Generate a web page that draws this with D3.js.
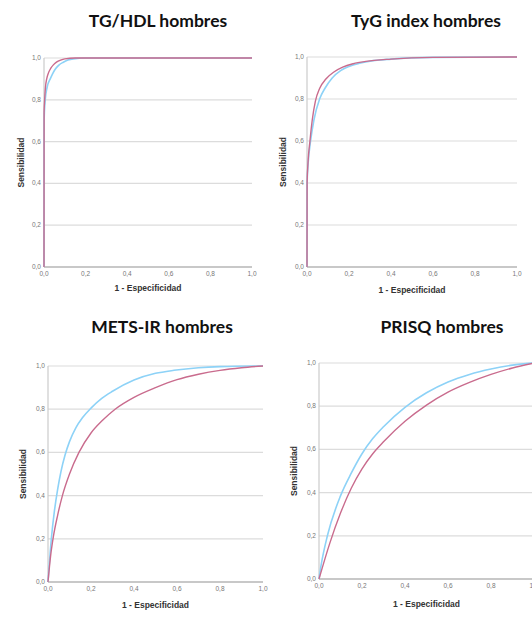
<!DOCTYPE html>
<html>
<head>
<meta charset="utf-8">
<script src="https://cdn.jsdelivr.net/npm/d3@7"></script>
<style>
  body { margin: 0; background: #fff; }
  .title { font-family: Lato, "Open Sans", sans-serif; font-weight: 700; font-size: 17.5px; fill: #111; }
  .axis-title { font-family: "Liberation Sans", Arial, sans-serif; font-weight: 700; font-size: 8.5px; fill: #333; }
  .tick-label { font-family: "Liberation Sans", Arial, sans-serif; font-size: 6.5px; fill: #777; }
</style>
</head>
<body>
<div id="chart"></div>
<script>
var titles = ['TG/HDL hombres', 'TyG index hombres', 'METS-IR hombres', 'PRISQ hombres'];
var tickValues = [0, 0.2, 0.4, 0.6, 0.8, 1.0];

// [1 - especificidad, sensibilidad]
var tgHdlBlue = [[0, 0], [0.0005, 0.7], [0.006, 0.8], [0.015, 0.86], [0.03, 0.9], [0.04, 0.922], [0.053, 0.945], [0.07, 0.965], [0.093, 0.98], [0.115, 0.99], [0.14, 0.996], [0.2, 1], [1, 1]];
var tgHdlRed = [[0, 0], [0.0005, 0.74], [0.003, 0.8], [0.007, 0.86], [0.013, 0.9], [0.022, 0.93], [0.032, 0.95], [0.045, 0.967], [0.06, 0.98], [0.08, 0.99], [0.1, 0.996], [0.15, 1], [1, 1]];

var tygBlue = [[0, 0], [0.0005, 0.4], [0.006, 0.5], [0.017, 0.6], [0.033, 0.7], [0.06, 0.8], [0.085, 0.85], [0.12, 0.9], [0.16, 0.935], [0.2, 0.955], [0.25, 0.97], [0.3, 0.98], [0.4, 0.99], [0.6, 0.998], [1, 1]];
var tygRed = [[0, 0], [0.0005, 0.4], [0.005, 0.5], [0.014, 0.6], [0.025, 0.7], [0.04, 0.79], [0.06, 0.85], [0.09, 0.895], [0.13, 0.93], [0.17, 0.952], [0.22, 0.968], [0.28, 0.979], [0.4, 0.99], [0.6, 0.998], [1, 1]];

var metsBlue = [[0, 0], [0.0155, 0.2], [0.03, 0.33], [0.045, 0.43], [0.06, 0.51], [0.08, 0.59], [0.1, 0.65], [0.13, 0.715], [0.16, 0.76], [0.2, 0.805], [0.25, 0.85], [0.3, 0.883], [0.4, 0.935], [0.5, 0.966], [0.586, 0.98], [0.7, 0.992], [0.8, 0.997], [1, 1]];
var metsRed = [[0, 0], [0.012, 0.12], [0.025, 0.21], [0.045, 0.31], [0.067, 0.4], [0.1, 0.5], [0.144, 0.6], [0.2, 0.69], [0.25, 0.745], [0.312, 0.8], [0.4, 0.855], [0.5, 0.9], [0.6, 0.937], [0.7, 0.962], [0.8, 0.98], [0.9, 0.992], [1, 1]];

var prisqBlue = [[0, 0], [0.01, 0.065], [0.039, 0.2], [0.1, 0.385], [0.15, 0.49], [0.2, 0.58], [0.25, 0.65], [0.3, 0.705], [0.4, 0.795], [0.5, 0.862], [0.6, 0.912], [0.7, 0.947], [0.8, 0.972], [0.9, 0.99], [1, 1]];
var prisqRed = [[0, 0], [0.05, 0.165], [0.1, 0.305], [0.15, 0.42], [0.2, 0.51], [0.25, 0.58], [0.3, 0.635], [0.4, 0.73], [0.5, 0.805], [0.6, 0.865], [0.7, 0.91], [0.8, 0.947], [0.9, 0.977], [1, 1]];

var blueSeries = [tgHdlBlue, tygBlue, metsBlue, prisqBlue];
var redSeries = [tgHdlRed, tygRed, metsRed, prisqRed];

// plot boxes and label spots for each panel
var panels = [
  { x0: 44, x1: 252, y0: 267, y1: 58, titleX: 158, titleY: 27, yLabX: 24, xLabY: 291 },
  { x0: 307, x1: 517, y0: 267, y1: 57, titleX: 426, titleY: 27, yLabX: 286, xLabY: 293 },
  { x0: 48, x1: 263, y0: 582, y1: 366, titleX: 162, titleY: 333, yLabX: 26, xLabY: 608 },
  { x0: 319, x1: 534, y0: 579, y1: 363, titleX: 442, titleY: 333, yLabX: 297, xLabY: 607 }
];

var svg = d3.select('#chart')
  .append('svg')
  .attr('width', 532)
  .attr('height', 621);

var fmt = function(d) { return d3.format('.1f')(d).replace('.', ','); };

panels.forEach(function(p, i) {
  var x = d3.scaleLinear().domain([0, 1]).range([p.x0, p.x1]);
  var y = d3.scaleLinear().domain([0, 1]).range([p.y0, p.y1]);
  var g = svg.append('g');

  g.append('text')
    .attr('class', 'title')
    .attr('x', p.titleX)
    .attr('y', p.titleY)
    .attr('text-anchor', 'middle')
    .text(titles[i]);

  // gridlines
  g.selectAll('.grid')
    .data(tickValues.slice(1))
    .enter().append('line')
    .attr('x1', p.x0)
    .attr('x2', p.x1)
    .attr('y1', function(d) { return y(d); })
    .attr('y2', function(d) { return y(d); })
    .attr('stroke', '#dcdcdc')
    .attr('stroke-width', 1.2);

  // axis lines
  g.append('line')
    .attr('x1', p.x0).attr('x2', p.x0)
    .attr('y1', p.y0).attr('y2', p.y1)
    .attr('stroke', '#cccccc').attr('stroke-width', 1.2);
  g.append('line')
    .attr('x1', p.x0).attr('x2', p.x1)
    .attr('y1', p.y0).attr('y2', p.y0)
    .attr('stroke', '#c8c8c8').attr('stroke-width', 2);

  g.selectAll('.ytick')
    .data(tickValues)
    .enter().append('text')
    .attr('class', 'tick-label')
    .attr('x', p.x0 - 3)
    .attr('y', function(d) { return y(d) + 2; })
    .attr('text-anchor', 'end')
    .text(fmt);

  g.selectAll('.xtick')
    .data(tickValues)
    .enter().append('text')
    .attr('class', 'tick-label')
    .attr('x', function(d) { return x(d); })
    .attr('y', p.y0 + 9)
    .attr('text-anchor', 'middle')
    .text(fmt);

  g.append('text')
    .attr('class', 'axis-title')
    .attr('transform', 'translate(' + p.yLabX + ',' + ((p.y0 + p.y1) / 2) + ') rotate(-90)')
    .attr('text-anchor', 'middle')
    .text('Sensibilidad');

  g.append('text')
    .attr('class', 'axis-title')
    .attr('x', (p.x0 + p.x1) / 2)
    .attr('y', p.xLabY)
    .attr('text-anchor', 'middle')
    .text('1 - Especificidad');

  var line = d3.line()
    .x(function(d) { return x(d[0]); })
    .y(function(d) { return y(d[1]); })
    .curve(d3.curveMonotoneX);

  g.append('path')
    .datum(blueSeries[i])
    .attr('d', line)
    .attr('fill', 'none')
    .attr('stroke', '#8dd2f7')
    .attr('stroke-width', 1.6);

  g.append('path')
    .datum(redSeries[i])
    .attr('d', line)
    .attr('fill', 'none')
    .attr('stroke', '#c96b8d')
    .attr('stroke-width', 1.4);
});
</script>
</body>
</html>
